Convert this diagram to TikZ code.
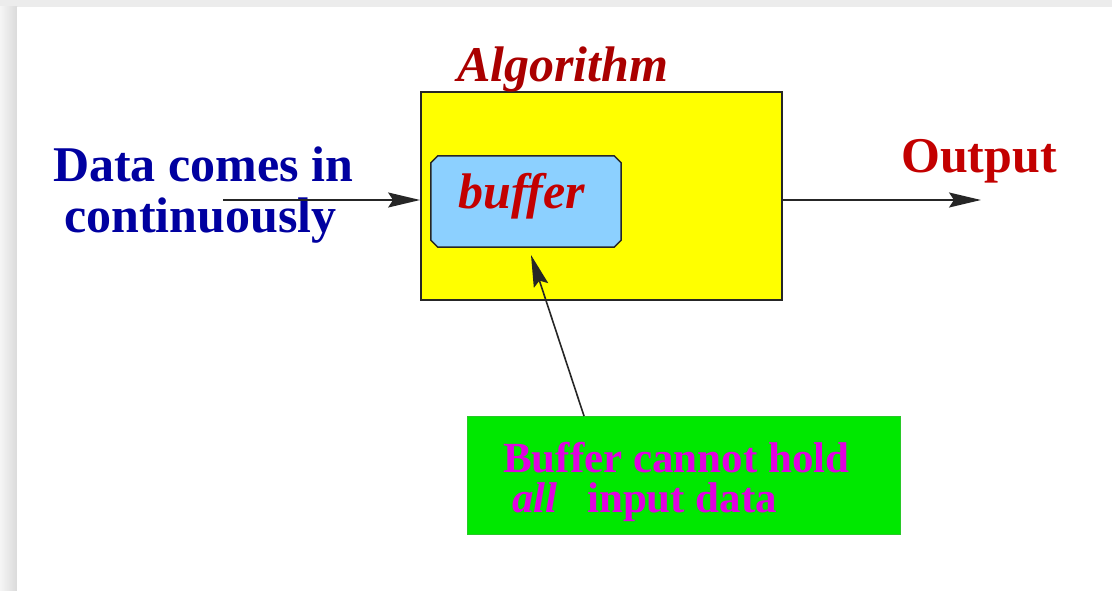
\documentclass[tikz,border=0pt]{standalone}
\usepackage{fontspec}
\setmainfont{Liberation Serif}
\usetikzlibrary{arrows.meta}

\definecolor{frameGray}{RGB}{236,236,236}
\definecolor{stripGray}{RGB}{218,218,218}
\definecolor{algoYellow}{RGB}{255,255,0}
\definecolor{bufBlue}{RGB}{140,208,255}
\definecolor{noteGreen}{RGB}{0,232,0}
\definecolor{noteEdge}{RGB}{40,200,40}
\definecolor{inkBlue}{RGB}{0,0,160}
\definecolor{inkRed}{RGB}{195,0,0}
\definecolor{inkDarkRed}{RGB}{170,0,0}
\definecolor{inkMagenta}{RGB}{225,0,225}

\tikzset{
  x=1pt, y=-1pt,
  label/.style={inner sep=0pt, anchor=base west, font=\bfseries\fontsize{50}{56}\selectfont},
  notetext/.style={inner sep=0pt, anchor=base west, font=\bfseries\fontsize{43}{48}\selectfont, text=inkMagenta},
  flow/.style={line width=1.8pt, draw=black!85,
    -{Stealth[length=32pt, width=15pt, inset=5pt]}},
}

\begin{document}
\begin{tikzpicture}
  % page frame
  \useasboundingbox (0,0) rectangle (1112,591);
  \fill[frameGray] (0,0) rectangle (1112,591);
  \shade[left color=frameGray!50!white, right color=stripGray] (0,7) rectangle (17,591);
  \fill[white] (17,7) rectangle (1112,591);

  % algorithm block with its buffer
  \node[draw=black!85, line width=1.8pt, fill=algoYellow, minimum width=361pt,
        minimum height=208pt, inner sep=0pt] (algo) at (601.5,196) {};
  \node[minimum width=190pt, minimum height=91pt, inner sep=0pt] (buf) at (526,201.5) {};
  % buffer outline with cut corners
  \filldraw[draw=black!85, line width=1.5pt, fill=bufBlue]
    ([xshift=7pt]buf.north west) -- ([xshift=-7pt]buf.north east)
    -- ([yshift=-7pt]buf.north east) -- ([yshift=7pt]buf.south east)
    -- ([xshift=-7pt]buf.south east) -- ([xshift=7pt]buf.south west)
    -- ([yshift=7pt]buf.south west) -- ([yshift=-7pt]buf.north west) -- cycle;
  \node[label, font=\bfseries\itshape\fontsize{50}{56}\selectfont, text=inkRed] (buftxt) at (458,208) {buffer};
  \node[label, font=\bfseries\itshape\fontsize{50}{56}\selectfont, text=inkDarkRed] (algotxt) at (457,82) {Algorithm};

  % input side
  \node[label, text=inkBlue] (in1) at (53,182) {Data comes in};
  \node[label, text=inkBlue] (in2) at (64,233) {continuously};
  \coordinate (inStart) at (223,200);
  \draw[flow] (inStart) -- (algo.west |- inStart);

  % output side
  \node[label, text=inkRed] (outtxt) at (901,173) {Output};
  \coordinate (outEnd) at (981,200);
  \draw[flow] (algo.east |- outEnd) -- (outEnd);

  % note about the buffer
  \node[draw=noteEdge, line width=1pt, fill=noteGreen, minimum width=433pt,
        minimum height=118pt, inner sep=0pt] (note) at (684,475.5) {};
  \node[notetext] (note1) at (503,472) {Buffer cannot hold};
  \node[notetext, font=\bfseries\itshape\fontsize{43}{48}\selectfont] (note2a) at (512,512) {all};
  \node[notetext] (note2b) at (587,512) {input data};
  \coordinate (noteTop) at (584,416);
  \coordinate (bufPoint) at (531,255);
  \draw[flow, line width=1.6pt] (noteTop) -- (bufPoint);
\end{tikzpicture}
\end{document}
